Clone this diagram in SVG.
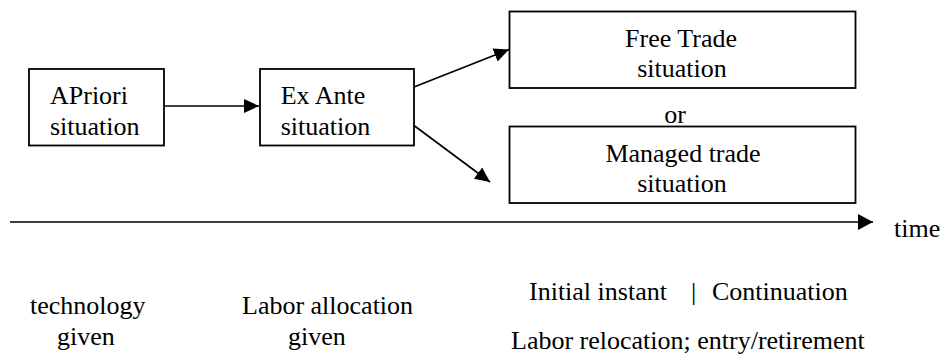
<svg xmlns="http://www.w3.org/2000/svg" width="943" height="358" viewBox="0 0 943 358">
<style>
.box{fill:#fff;stroke:#000;stroke-width:1.8}
.ln{stroke:#000;stroke-width:1.7;fill:none}
</style>
<defs>
<marker id="ah" markerUnits="userSpaceOnUse" markerWidth="16" markerHeight="16" refX="15" refY="7" orient="auto">
<path d="M0,0 L15,7 L0,14 z" fill="#000"/>
</marker>
<marker id="ah2" markerUnits="userSpaceOnUse" markerWidth="17" markerHeight="17" refX="15" refY="8" orient="auto">
<path d="M0,0 L15,8 L0,16 z" fill="#000"/>
</marker>
</defs>
<rect width="943" height="358" fill="#fff"/>
<g id="connectors">
<line class="ln" x1="164" y1="106" x2="259" y2="106" marker-end="url(#ah)"/>
<line class="ln" x1="414" y1="87" x2="509" y2="49.5" marker-end="url(#ah)"/>
<line class="ln" x1="414" y1="125.5" x2="490" y2="182" marker-end="url(#ah)"/>
<line class="ln" x1="10" y1="222" x2="873" y2="222" stroke-width="2.2" marker-end="url(#ah2)"/>
</g>
<g font-family="'Liberation Serif', 'Times New Roman', serif" font-size="26" fill="#000">
<g id="apriori">
<rect class="box" x="29" y="69" width="135" height="76.5"/>
<text x="50" y="104.3">APriori</text>
<text x="50" y="135">situation</text>
</g>
<g id="exante">
<rect class="box" x="260" y="69" width="154" height="76.5"/>
<text x="280.7" y="104.3">Ex Ante</text>
<text x="280.7" y="135">situation</text>
</g>
<g id="freetrade" text-anchor="middle">
<rect class="box" x="509.5" y="11.5" width="346" height="76.5"/>
<text x="681" y="46.7">Free Trade</text>
<text x="682" y="77.3">situation</text>
</g>
<text x="675" y="123.3" text-anchor="middle">or</text>
<g id="managed" text-anchor="middle">
<rect class="box" x="509.5" y="126.5" width="346" height="76.5"/>
<text x="683" y="161.7">Managed trade</text>
<text x="682" y="192.3">situation</text>
</g>
<text x="894" y="237">time</text>
<text x="30" y="314">technology</text>
<text x="57" y="345">given</text>
<text x="242" y="314">Labor allocation</text>
<text x="288" y="345">given</text>
<text x="529" y="300">Initial instant</text>
<text x="691" y="300">|</text>
<text x="712" y="300">Continuation</text>
<text x="511" y="349">Labor relocation; entry/retirement</text>
</g>
</svg>
